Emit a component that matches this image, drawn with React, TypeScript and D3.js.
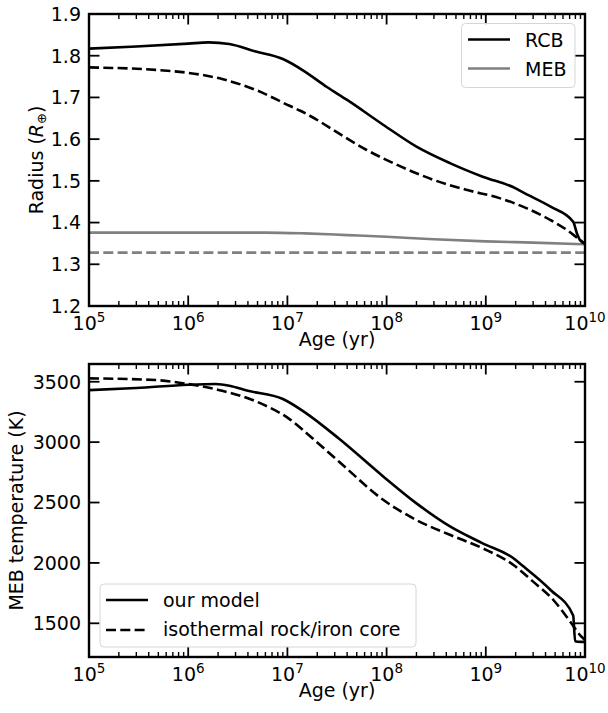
import React from "react";
import * as d3 from "d3";

// ---------- data ----------
const rcbOurAge = [1e5, 3e5, 1e6, 1.6e6, 2.6e6, 4.8e6, 9e6, 1.5e7, 2.5e7, 4e7, 9.3e7, 2e8, 4.4e8, 9.3e8, 2e9, 2.3e9, 4.5e9, 7.6e9, 8.3e9, 8.9e9, 1e10];
const rcbOurR = [1.817, 1.822, 1.829, 1.832, 1.828, 1.81, 1.792, 1.762, 1.725, 1.694, 1.634, 1.582, 1.542, 1.51, 1.482, 1.474, 1.438, 1.402, 1.374, 1.358, 1.349];

const rcbIsoAge = [1e5, 4.7e5, 1e6, 2.2e6, 4.8e6, 1.05e7, 1.35e7, 2.2e7, 2.9e7, 6.3e7, 1.4e8, 3e8, 6.5e8, 1.4e9, 2.6e9, 4.5e9, 6.6e9, 8.5e9, 1e10];
const rcbIsoR = [1.772, 1.766, 1.759, 1.744, 1.718, 1.68, 1.668, 1.64, 1.622, 1.574, 1.534, 1.502, 1.478, 1.458, 1.434, 1.406, 1.382, 1.362, 1.349];

const mebOurAge = [1e5, 1e6, 6e6, 1.5e7, 4e7, 1e8, 3e8, 1e9, 3e9, 1e10];
const mebOurR = [1.376, 1.376, 1.376, 1.374, 1.37, 1.366, 1.36, 1.355, 1.352, 1.348];

const mebIsoAge = [1e5, 1e10];
const mebIsoR = [1.328, 1.328];

const tOurAge = [1e5, 3e5, 1e6, 1.9e6, 2.6e6, 4e6, 9e6, 1.5e7, 3.3e7, 9.3e7, 2e8, 4.4e8, 9.3e8, 1.9e9, 2.3e9, 4.5e9, 7.6e9, 7.95e9, 9.3e9, 1e10];
const tOurT = [3431, 3448, 3475, 3481, 3467, 3425, 3357, 3247, 3030, 2714, 2493, 2300, 2162, 2038, 1983, 1776, 1565, 1352, 1346, 1345];

const tIsoAge = [1e5, 4.7e5, 1e6, 2.2e6, 4.8e6, 1.05e7, 1.8e7, 3.3e7, 9.3e7, 2e8, 4.4e8, 9.3e8, 1.9e9, 3e9, 4.8e9, 7.1e9, 8.9e9, 1e10];
const tIsoT = [3528, 3514, 3481, 3425, 3338, 3191, 3030, 2840, 2521, 2355, 2231, 2121, 1983, 1845, 1693, 1513, 1403, 1362];

const xMajor = [1e5, 1e6, 1e7, 1e8, 1e9, 1e10];
const xExp = ["5", "6", "7", "8", "9", "10"];
const yTopTicks = [1.2, 1.3, 1.4, 1.5, 1.6, 1.7, 1.8, 1.9];
const yBotTicks = [1500, 2000, 2500, 3000, 3500];

const topLegend = ["RCB", "MEB"];
const botLegend = ["our model", "isothermal rock/iron core"];

// ---------- layout ----------
const W = 608, H = 713;
const L = 89, R = 585;
const T1 = 14, B1 = 306;
const T2 = 364, B2 = 657;
const FONT = "DejaVu Sans, sans-serif";
const FS = 19;
const DASH = "10,4.3";
const GRAY = "#808080";

const x = d3.scaleLog().domain([1e5, 1e10]).range([L, R]);
const yTop = d3.scaleLinear().domain([1.2, 1.9]).range([B1, T1]);
const yBot = d3.scaleLinear().domain([1221, 3647]).range([B2, T2]);

const xMinor: number[] = [];
for (let k = 5; k < 10; k++) {
  for (let m = 2; m <= 9; m++) xMinor.push(m * Math.pow(10, k));
}

function pathOf(ages: number[], vals: number[], y: d3.ScaleLinear<number, number>) {
  const gen = d3
    .line<number>()
    .x((_, i) => x(ages[i]))
    .y((v) => y(v))
    .curve(d3.curveMonotoneX);
  return gen(vals) || "";
}

function Axes({ top, bottom, y, ticks, fmt }: any) {
  return (
    <g>
      {xMajor.map((v) => (
        <g key={"M" + v}>
          <line x1={x(v)} x2={x(v)} y1={bottom} y2={bottom - 10.5} stroke="#000" strokeWidth={1.8} />
          <line x1={x(v)} x2={x(v)} y1={top} y2={top + 10.5} stroke="#000" strokeWidth={1.8} />
        </g>
      ))}
      {xMinor.map((v) => (
        <g key={"m" + v}>
          <line x1={x(v)} x2={x(v)} y1={bottom} y2={bottom - 5} stroke="#000" strokeWidth={1.4} />
          <line x1={x(v)} x2={x(v)} y1={top} y2={top + 5} stroke="#000" strokeWidth={1.4} />
        </g>
      ))}
      {ticks.map((v: number) => (
        <g key={"y" + v}>
          <line x1={L} x2={L + 10.5} y1={y(v)} y2={y(v)} stroke="#000" strokeWidth={1.8} />
          <line x1={R} x2={R - 10.5} y1={y(v)} y2={y(v)} stroke="#000" strokeWidth={1.8} />
          <text x={L - 8} y={y(v)} dy="0.36em" textAnchor="end" fontSize={FS} fontFamily={FONT}>
            {fmt(v)}
          </text>
        </g>
      ))}
      {xMajor.map((v, i) => (
        <text key={"xl" + v} x={x(v)} y={bottom + 24} textAnchor="middle" fontSize={FS} fontFamily={FONT}>
          <tspan>10</tspan>
          <tspan dy={-8} fontSize={13.5}>{xExp[i]}</tspan>
        </text>
      ))}
      <text x={(L + R) / 2} y={bottom + 40} textAnchor="middle" fontSize={FS} fontFamily={FONT}>
        Age (yr)
      </text>
      <rect x={L} y={top} width={R - L} height={bottom - top} fill="none" stroke="#000" strokeWidth={2.4} />
    </g>
  );
}

export default function App() {
  return (
    <svg width={W} height={H} style={{ position: "absolute", left: 0, top: 0, background: "#fff" }}>
      <defs>
        <clipPath id="c1">
          <rect x={L} y={T1} width={R - L} height={B1 - T1} />
        </clipPath>
        <clipPath id="c2">
          <rect x={L} y={T2} width={R - L} height={B2 - T2} />
        </clipPath>
      </defs>
      <rect x={0} y={0} width={W} height={H} fill="#fff" />

      <g clipPath="url(#c1)" fill="none" strokeWidth={2.6}>
        <path d={pathOf(mebIsoAge, mebIsoR, yTop)} stroke={GRAY} strokeDasharray={DASH} />
        <path d={pathOf(mebOurAge, mebOurR, yTop)} stroke={GRAY} />
        <path d={pathOf(rcbIsoAge, rcbIsoR, yTop)} stroke="#000" strokeDasharray={DASH} />
        <path d={pathOf(rcbOurAge, rcbOurR, yTop)} stroke="#000" />
      </g>
      <Axes top={T1} bottom={B1} y={yTop} ticks={yTopTicks} fmt={(v: number) => v.toFixed(1)} />
      <text transform={`translate(42.5,${(T1 + B1) / 2}) rotate(-90)`} textAnchor="middle" fontSize={FS} fontFamily={FONT}>
        <tspan>Radius (</tspan>
        <tspan fontStyle="italic">R</tspan>
        <tspan fontSize={13} dy={3}>⊕</tspan>
        <tspan dy={-3}>)</tspan>
      </text>

      <g>
        <rect x={461.5} y={23.5} width={113.5} height={64} rx={4} fill="#fff" fillOpacity={0.8} stroke="#d6d6d6" strokeWidth={1} />
        <line x1={468} x2={510} y1={39.5} y2={39.5} stroke="#000" strokeWidth={2.6} />
        <line x1={468} x2={510} y1={68.5} y2={68.5} stroke={GRAY} strokeWidth={2.6} />
        <text x={525} y={46.7} fontSize={FS} fontFamily={FONT}>{topLegend[0]}</text>
        <text x={525} y={76} fontSize={FS} fontFamily={FONT}>{topLegend[1]}</text>
      </g>

      <g clipPath="url(#c2)" fill="none" strokeWidth={2.6}>
        <path d={pathOf(tIsoAge, tIsoT, yBot)} stroke="#000" strokeDasharray={DASH} />
        <path d={pathOf(tOurAge, tOurT, yBot)} stroke="#000" />
      </g>
      <Axes top={T2} bottom={B2} y={yBot} ticks={yBotTicks} fmt={(v: number) => String(v)} />
      <text transform={`translate(22.5,${(T2 + B2) / 2}) rotate(-90)`} textAnchor="middle" fontSize={FS} fontFamily={FONT}>
        MEB temperature (K)
      </text>

      <g>
        <rect x={100} y={584} width={316} height={63} rx={4} fill="#fff" fillOpacity={0.8} stroke="#d6d6d6" strokeWidth={1} />
        <line x1={106} x2={148} y1={600} y2={600} stroke="#000" strokeWidth={2.6} />
        <line x1={106} x2={148} y1={630} y2={630} stroke="#000" strokeWidth={2.6} strokeDasharray={DASH} />
        <text x={163} y={606.7} fontSize={FS} fontFamily={FONT}>{botLegend[0]}</text>
        <text x={163} y={636} fontSize={FS} fontFamily={FONT}>{botLegend[1]}</text>
      </g>
    </svg>
  );
}
